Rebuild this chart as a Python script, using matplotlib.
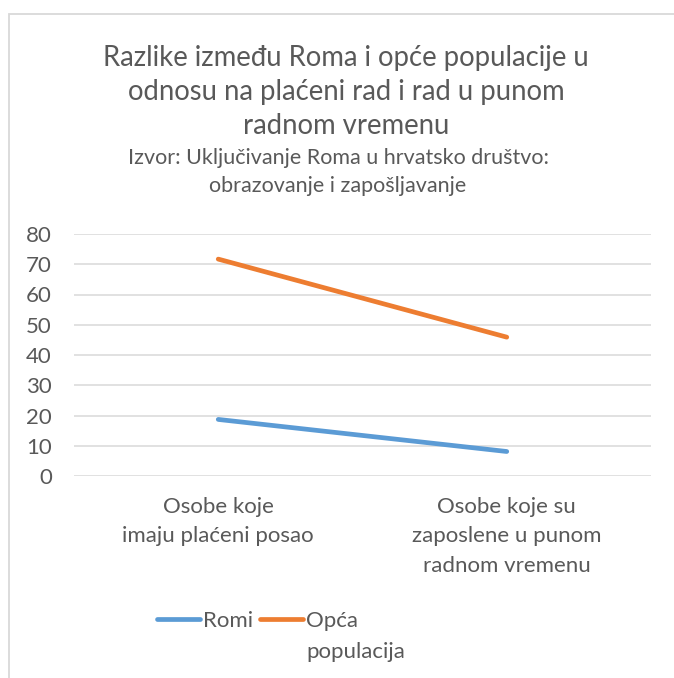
import matplotlib
matplotlib.use("Agg")
import matplotlib.pyplot as plt
from matplotlib.lines import Line2D
from matplotlib.patches import Rectangle

categories = ["Osobe koje\nimaju plaćeni posao", "Osobe koje su\nzaposlene u punom\nradnom vremenu"]
romi = [18.7, 8.1]
opca = [71.7, 45.9]
series_names = ["Romi", "Opća\npopulacija"]
yticks = [0, 10, 20, 30, 40, 50, 60, 70, 80]

plt.rcParams['font.family'] = ['Lato', 'DejaVu Sans']
TXT = '#595959'
GRID = '#D9D9D9'
BLUE = '#5B9BD5'
ORANGE = '#ED7D31'

W, H = 674, 678
fig = plt.figure(figsize=(W / 100, H / 100), dpi=100)

# chart border (cropped on right and bottom)
fig.patches.append(Rectangle((8.5 / W, -0.1), 1.2, 1 - 14.5 / H + 0.1, transform=fig.transFigure,
                             fill=False, edgecolor=GRID, linewidth=1.3))

ax = fig.add_axes([74 / W, 1 - 476 / H, 577 / W, 242 / H])
x = list(range(len(categories)))
lines = []
for vals, col in ((romi, BLUE), (opca, ORANGE)):
    ln, = ax.plot(x, vals, color=col, linewidth=3.4, solid_capstyle='round', zorder=3)
    lines.append(ln)
ax.set_xlim(-0.5, len(categories) - 0.5)
ax.set_ylim(0, 80)
ax.set_yticks(yticks)
ax.set_yticklabels([str(v) for v in yticks], color=TXT, fontsize=16)
ax.set_xticks(x)
ax.set_xticklabels(categories, color=TXT, fontsize=16, linespacing=1.6, va='top')
ax.tick_params(axis='both', length=0)
ax.tick_params(axis='y', pad=16)
ax.tick_params(axis='x', pad=15)
ax.grid(axis='y', color=GRID, linewidth=1.1)
ax.set_axisbelow(True)
for s in ax.spines.values():
    s.set_visible(False)

fig.text(346 / W, 1 - 92 / H, "Razlike između Roma i opće populacije u\nodnosu na plaćeni rad i rad u punom\nradnom vremenu",
         ha='center', va='center', fontsize=19.8, color=TXT, linespacing=1.4)
fig.text(338 / W, 1 - 172 / H, "Izvor: Uključivanje Roma u hrvatsko društvo:\nobrazovanje i zapošljavanje",
         ha='center', va='center', fontsize=15.5, color=TXT, linespacing=1.5)

# legend drawn manually
leg_y = 1 - 619 / H
for ln, x0, name in ((lines[0], 157, series_names[0]), (lines[1], 260, series_names[1])):
    fig.add_artist(Line2D([x0 / W, (x0 + 43) / W], [leg_y, leg_y], transform=fig.transFigure,
                          color=ln.get_color(), linewidth=3.4, solid_capstyle='round'))
    parts = name.split("\n")
    for i, p in enumerate(parts):
        fig.text((x0 + 46) / W, leg_y - i * 31 / H, p, ha='left', va='center_baseline',
                 fontsize=16, color=TXT)

fig.savefig("out.png", dpi=100, facecolor='white')
